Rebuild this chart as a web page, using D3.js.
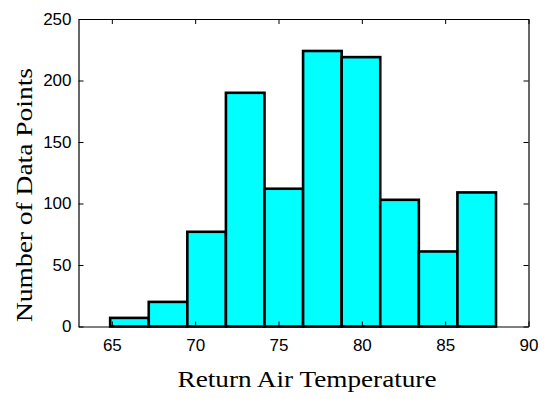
<!DOCTYPE html>
<html>
<head>
<meta charset="utf-8">
<script src="https://cdn.jsdelivr.net/npm/d3@7"></script>
<style>
  body { margin: 0; background: #fff; }
  .tick text { font-family: "Liberation Sans", Arial, sans-serif; }
</style>
</head>
<body>
<div id="chart"></div>
<script>
// histogram bins (left edges) and counts
var binStart = 64.9;
var binWidth = 2.315;
var counts = [7, 20, 77, 190, 112, 224, 219, 103, 61, 109];
var xTicks = [65, 70, 75, 80, 85, 90];
var yTicks = [0, 50, 100, 150, 200, 250];

var width = 546, height = 399;
var margin = { top: 19, right: 17.5, bottom: 72.5, left: 78.5 };

var svg = d3.select("#chart").append("svg")
  .attr("width", width)
  .attr("height", height);

var x = d3.scaleLinear().domain([63, 90]).range([margin.left, width - margin.right]);
var y = d3.scaleLinear().domain([0, 250]).range([height - margin.bottom, margin.top]);

var bins = counts.map(function(c, i) {
  return { x0: binStart + i * binWidth, x1: binStart + (i + 1) * binWidth, n: c };
});

// bars
svg.append("g")
  .selectAll("rect")
  .data(bins)
  .join("rect")
  .attr("x", function(d) { return x(d.x0); })
  .attr("y", function(d) { return y(d.n); })
  .attr("width", function(d) { return x(d.x1) - x(d.x0); })
  .attr("height", function(d) { return y(0) - y(d.n); })
  .attr("fill", "#00ffff")
  .attr("stroke", "#000")
  .attr("stroke-width", 2.6);

// axes, matlab style: ticks inside on all sides
var xb = svg.append("g")
  .attr("transform", "translate(0," + y(0) + ")")
  .call(d3.axisBottom(x).tickValues(xTicks).tickSizeInner(-5).tickSizeOuter(0).tickPadding(12));
var xt = svg.append("g")
  .attr("transform", "translate(0," + y(250) + ")")
  .call(d3.axisTop(x).tickValues(xTicks).tickSizeInner(-5).tickSizeOuter(0).tickFormat(""));
var yl = svg.append("g")
  .attr("transform", "translate(" + x(63) + ",0)")
  .call(d3.axisLeft(y).tickValues(yTicks).tickSizeInner(-5).tickSizeOuter(0).tickPadding(7));
var yr = svg.append("g")
  .attr("transform", "translate(" + x(90) + ",0)")
  .call(d3.axisRight(y).tickValues(yTicks).tickSizeInner(-5).tickSizeOuter(0).tickFormat(""));

svg.selectAll(".domain").attr("stroke", "#000").attr("stroke-width", 1.2);
svg.selectAll(".tick line").attr("stroke", "#000");
svg.selectAll(".tick text")
  .attr("fill", "#000")
  .style("font-size", "17px");
xb.selectAll(".tick text").attr("dy", "0.71em");

// labels
svg.append("text")
  .attr("x", 307)
  .attr("y", 387)
  .attr("text-anchor", "middle")
  .attr("textLength", 259)
  .attr("lengthAdjust", "spacingAndGlyphs")
  .style("font-family", "'Liberation Serif', 'Times New Roman', serif")
  .style("font-size", "24px")
  .text("Return Air Temperature");

svg.append("text")
  .attr("transform", "translate(32,195) rotate(-90)")
  .attr("text-anchor", "middle")
  .attr("textLength", 254)
  .attr("lengthAdjust", "spacingAndGlyphs")
  .style("font-family", "'Liberation Serif', 'Times New Roman', serif")
  .style("font-size", "24px")
  .text("Number of Data Points");
</script>
</body>
</html>
